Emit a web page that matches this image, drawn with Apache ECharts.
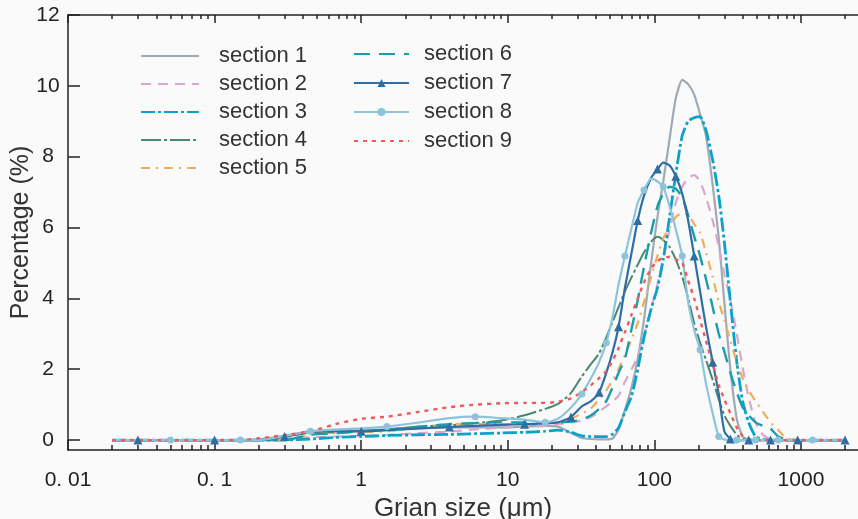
<!DOCTYPE html>
<html>
<head>
<meta charset="utf-8">
<script src="https://cdn.jsdelivr.net/npm/echarts@6/dist/echarts.min.js"></script>
<style>
html,body{margin:0;padding:0;background:#fafafa;}
#chart{width:858px;height:519px;}
</style>
</head>
<body>
<div id="chart"></div>
<script>
// ---------- data ----------
const grainSize = [0.02,0.03,0.05,0.07,0.1,0.15,0.2,0.3,0.45,0.7,1,1.5,2.5,4,6,9,13,18,22,27,32,37,42,47,52,57,63,70,77,85,95,105,115,127,140,155,170,187,205,225,250,275,300,330,365,400,440,490,550,620,700,800,950,1200,1600,2000];

const section1 = [0,0,0,0,0,0,0.02, 0.12,0.22,0.25,0.28,0.3,0.33,0.35,0.36,0.36,0.38,0.4, 0.38,0.2,0.06,0.03,0.02,0.02,0.05, 0.3,0.85,1.5,2.3,3.4,5.0,6.3,7.3,8.5,9.65,10.17, 10.05,9.75,9.2,8.6,7.2,5.7,3.9,2.0,0.6,0.1,0.02, 0,0,0,0,0,0,0,0,0];
const section2 = [0,0,0,0,0,0,0, 0.05,0.08,0.1,0.12,0.14,0.2,0.24,0.3,0.35,0.38,0.4, 0.45,0.5,0.55,0.65,0.8,0.95,1.1, 1.25,1.65,2.0,2.35,2.95,3.7,4.4,5.1,5.95,6.7,7.15, 7.4,7.48,7.3,6.85,6.2,5.45,4.7,3.95,3.0,2.05,1.2, 0.5,0.15,0.02,0,0,0,0,0,0];
const section3 = [0,0,0,0,0,0,0,0, 0.03,0.08,0.1,0.13,0.15,0.16,0.18,0.2,0.22,0.25, 0.28,0.22,0.12,0.1,0.1,0.1,0.17, 0.35,0.8,1.25,2.0,2.9,3.7,4.3,5.1,6.3,7.5,8.6, 9.0,9.1,9.13,8.75,7.9,6.9,5.6,3.9,2.2,1.1,0.5, 0.1,0.02,0,0,0,0,0,0,0];
const section4 = [0,0,0,0,0,0,0, 0.1,0.2,0.22,0.25,0.3,0.38,0.42,0.48,0.55,0.7,0.88, 1.02,1.33,1.8,2.15,2.45,2.9,3.35, 3.75,4.2,4.6,4.95,5.3,5.6,5.74,5.65,5.45,5.1,4.6, 4.0,3.3,2.75,2.26,1.7,1.15,0.7,0.4,0.15,0.03,0, 0,0,0,0,0,0,0,0,0];
const section5 = [0,0,0,0,0,0,0,0, 0.15,0.2,0.22,0.25,0.35,0.45,0.45,0.45,0.45,0.48, 0.5,0.6,0.75,0.9,1.15,1.4,1.7, 2.0,2.4,2.85,3.3,3.9,4.6,5.2,5.7,6.0,6.3,6.4, 6.35,6.1,5.85,5.3,4.6,3.9,3.4,2.8,2.2,1.75,1.4, 1.1,0.8,0.5,0.28,0.05,0,0,0,0];
const section6 = [0,0,0,0,0,0,0,0, 0.15,0.2,0.25,0.3,0.38,0.45,0.48,0.5,0.5,0.5, 0.5,0.52,0.58,0.7,0.88,1.1,1.5, 1.9,2.3,3.15,3.95,4.9,5.85,6.6,6.95,7.15,7.1,6.85, 6.35,5.75,5.2,4.55,3.75,3.0,2.5,1.9,1.35,0.93,0.7, 0.5,0.4,0.32,0.1,0.02,0,0,0,0];
const section7 = [0,0,0,0,0,0,0, 0.1,0.25,0.25,0.25,0.28,0.33,0.37,0.4,0.43,0.45,0.47, 0.5,0.65,0.95,1.1,1.35,1.9,2.5, 3.2,4.3,5.3,6.2,6.9,7.4,7.65,7.83,7.75,7.45,6.95, 6.2,5.2,4.2,3.2,2.2,1.3,0.25,0.03,0,0,0, 0,0,0,0,0,0,0,0,0];
const section8 = [0,0,0,0,0,0,0, 0.12,0.25,0.3,0.33,0.38,0.5,0.62,0.66,0.62,0.58,0.5, 0.6,0.92,1.3,1.75,2.2,2.75,3.5, 4.4,5.2,6.0,6.7,7.06,7.38,7.3,7.15,6.6,5.95,5.2, 3.9,3.1,2.55,1.6,0.75,0.1,0.02,0,0,0,0, 0,0,0,0,0,0,0,0,0];
const section9 = [0,0,0,0,0,0,0.05, 0.14,0.25,0.47,0.6,0.66,0.8,0.93,1.0,1.04,1.05,1.05, 1.08,1.18,1.35,1.55,1.75,1.95,2.25, 2.6,3.05,3.55,4.0,4.45,4.85,5.05,5.15,5.17,5.1,5.0, 4.5,4.0,3.4,2.8,2.15,1.55,1.15,0.76,0.35,0.12,0.03, 0,0,0,0,0,0,0,0,0];

const seriesNames = ['section 1','section 2','section 3','section 4','section 5','section 6','section 7','section 8','section 9'];
const seriesValues = [section1, section2, section3, section4, section5, section6, section7, section8, section9];

const xMajorTicks = [0.01, 0.1, 1, 10, 100, 1000];
const xTickLabels = ['0. 01', '0. 1', '1', '10', '100', '1000'];
const xMinorTicks = [0.02,0.03,0.04,0.05,0.06,0.07,0.08,0.09,0.2,0.3,0.4,0.5,0.6,0.7,0.8,0.9,2,3,4,5,6,7,8,9,20,30,40,50,60,70,80,90,200,300,400,500,600,700,800,900,2000];
const yTicks = [0, 2, 4, 6, 8, 10, 12];

// ---------- styles ----------
const styles = [
  {color:'#9eabb4', width:2.2, type:'solid'},
  {color:'#d9a7cd', width:2.2, type:[10,7]},
  {color:'#0aa2c8', width:2.8, type:[14,3,3,3]},
  {color:'#4c8570', width:2,   type:[20,3,3,3]},
  {color:'#efad5c', width:2.2, type:[9,6,2,6]},
  {color:'#1b9cae', width:2.4, type:[16,9]},
  {color:'#2f6ea4', width:2.2, type:'solid', symbol:'triangle', size:9, step:3, start:1},
  {color:'#8cc4dc', width:2.2, type:'solid', symbol:'circle', size:7, step:3, start:2},
  {color:'#ef5b5b', width:2.4, type:[4,5]}
];

const FONT = "'Liberation Sans', Arial, Helvetica, sans-serif";

const series = seriesNames.map((name, i) => {
  const st = styles[i];
  const pts = grainSize.map((x, k) => [x, seriesValues[i][k]]);
  const s = {
    name: name,
    type: 'line',
    xAxisIndex: 0,
    data: pts,
    smooth: 0.2,
    color: st.color,
    lineStyle: {color: st.color, width: st.width, type: st.type},
    itemStyle: {color: st.color},
    emphasis: {disabled: true},
    z: 2
  };
  if (st.symbol) {
    s.symbol = st.symbol;
    s.showSymbol = true;
    s.showAllSymbol = true;
    s.symbolSize = (v, p) => ((p.dataIndex - st.start) % st.step === 0 && p.dataIndex >= st.start) ? st.size : 0;
  } else {
    s.symbol = 'none';
  }
  return s;
});

function legendItem(name, i) {
  return styles[i].symbol ? {name: name} : {name: name, itemStyle: {opacity: 0}};
}

const xMin = 0.01, xMax = 2450;
const axisColor = '#222';

const option = {
  backgroundColor: '#fafafa',
  animation: false,
  grid: {left: 68, right: 0, top: 15, bottom: 69, containLabel: false, outerBoundsMode: 'none'},
  legend: [
    {
      data: seriesNames.slice(0,5).map((n,i) => legendItem(n, i)),
      orient: 'vertical', left: 135, top: 40,
      itemWidth: 58, itemHeight: 10, itemGap: 6,
      selectedMode: false,
      textStyle: {fontSize: 22, lineHeight: 21, color: '#333', fontFamily: FONT, padding: [0,0,0,15]}
    },
    {
      data: seriesNames.slice(5).map((n,i) => legendItem(n, i+5)),
      orient: 'vertical', left: 348, top: 38,
      itemWidth: 55, itemHeight: 10, itemGap: 7,
      selectedMode: false,
      textStyle: {fontSize: 22, lineHeight: 21, color: '#333', fontFamily: FONT, padding: [0,0,0,10]}
    }
  ],
  xAxis: [
    {
      type: 'log', logBase: 10, min: xMin, max: xMax, position: 'bottom',
      axisLine: {show: true, onZero: false, lineStyle: {color: axisColor, width: 1.5}},
      axisTick: {show: true, inside: true, length: 10, customValues: xMajorTicks, lineStyle: {color: axisColor, width: 1.5}},
      axisLabel: {
        customValues: xMajorTicks, fontSize: 21, color: axisColor, fontFamily: FONT, margin: 20,
        formatter: function (v) {
          const idx = xMajorTicks.findIndex(t => Math.abs(Math.log10(t) - Math.log10(v)) < 1e-6);
          return idx >= 0 ? xTickLabels[idx] : '';
        }
      },
      splitLine: {show: false}, minorTick: {show: false},
      name: 'Grian size (μm)', nameLocation: 'middle', nameGap: 46,
      nameTextStyle: {fontSize: 26, color: '#333', fontFamily: FONT}
    },
    {
      type: 'log', logBase: 10, min: xMin, max: xMax, position: 'bottom',
      axisLine: {show: false, onZero: false},
      axisTick: {show: true, inside: true, length: 5, customValues: xMinorTicks, lineStyle: {color: axisColor, width: 1.5}},
      axisLabel: {show: false}, splitLine: {show: false}
    },
    {
      type: 'log', logBase: 10, min: xMin, max: xMax, position: 'top',
      axisLine: {show: true, onZero: false, lineStyle: {color: axisColor, width: 1.5}},
      axisTick: {show: true, inside: true, length: 8, customValues: xMajorTicks, lineStyle: {color: axisColor, width: 1.5}},
      axisLabel: {show: false}, splitLine: {show: false}
    },
    {
      type: 'log', logBase: 10, min: xMin, max: xMax, position: 'top',
      axisLine: {show: false, onZero: false},
      axisTick: {show: true, inside: true, length: 4, customValues: xMinorTicks, lineStyle: {color: axisColor, width: 1.5}},
      axisLabel: {show: false}, splitLine: {show: false}
    }
  ],
  yAxis: {
    type: 'value', min: -0.28, max: 12, position: 'left',
    axisLine: {show: true, onZero: false, lineStyle: {color: axisColor, width: 1.5}},
    axisTick: {show: true, inside: true, length: 12, customValues: yTicks, lineStyle: {color: axisColor, width: 1.5}},
    axisLabel: {customValues: yTicks, fontSize: 21, color: axisColor, fontFamily: FONT, align: 'center', margin: 20},
    splitLine: {show: false},
    name: 'Percentage (%)', nameLocation: 'middle', nameGap: 34, nameMoveOverlap: false,
    nameTextStyle: {fontSize: 25, color: '#333', fontFamily: FONT}
  },
  series: series
};

const chart = echarts.init(document.getElementById('chart'), null, {renderer: 'canvas'});
chart.setOption(option);
</script>
</body>
</html>
